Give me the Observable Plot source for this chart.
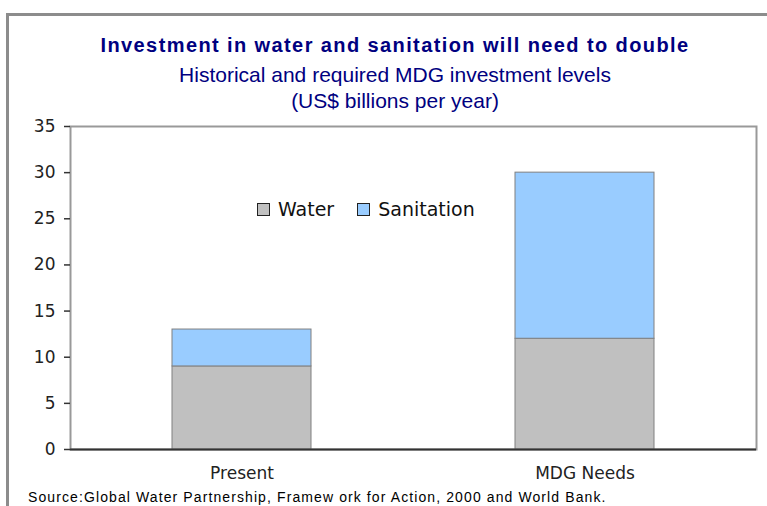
<!DOCTYPE html>
<html><head><meta charset="utf-8">
<script src="https://cdn.jsdelivr.net/npm/d3@7"></script>
<script src="https://cdn.jsdelivr.net/npm/@observablehq/plot@0.6"></script>
<style>
html,body{margin:0;overflow:hidden;}
body{width:767px;height:506px;background:#fff;position:relative;font-family:"Liberation Sans",Arial,sans-serif;}
#frame{position:absolute;left:6px;top:13px;width:800px;height:520px;border:3px solid #8c8c8c;border-right:none;border-bottom:none;box-sizing:border-box;}
.t{position:absolute;left:8px;width:774px;text-align:center;color:#000080;white-space:nowrap;}
#title{top:34px;font-size:20px;font-weight:bold;letter-spacing:1.4px;}
#sub1{top:63px;font-size:21px;}
#sub2{top:89px;font-size:21px;}
#chart{position:absolute;left:0;top:116px;}
#legend{position:absolute;left:257px;top:198px;font-family:"DejaVu Sans",sans-serif;font-size:19px;color:#111;display:flex;align-items:center;}
.sw{display:inline-block;width:11px;height:11px;border:1px solid #222;margin-right:8px;}
#caption{position:absolute;left:28px;top:489px;font-size:14px;letter-spacing:1.1px;color:#000;white-space:nowrap;}
</style></head>
<body>
<div id="frame"></div>
<div class="t" id="title">Investment in water and sanitation will need to double</div>
<div class="t" id="sub1">Historical and required MDG investment levels</div>
<div class="t" id="sub2">(US$ billions per year)</div>
<div id="chart"></div>
<div id="legend"></div>
<div id="caption">Source:Global Water Partnership, Framew ork for Action, 2000 and World Bank.</div>
<script>
const categories = ["Present", "MDG Needs"];
const series = ["Water", "Sanitation"];
const waterValues = [9, 12];
const sanitationValues = [4, 18];
const yTicks = [0, 5, 10, 15, 20, 25, 30, 35];
const colors = ["#c0c0c0", "#99ccff"];

const data = [];
categories.forEach((c, i) => {
  data.push({cat: c, series: "Water", value: waterValues[i]});
  data.push({cat: c, series: "Sanitation", value: sanitationValues[i]});
});

const chart = Plot.plot({
  width: 767,
  height: 390,
  marginLeft: 70,
  marginRight: 11,
  marginTop: 10,
  marginBottom: 57,
  style: {fontFamily: "DejaVu Sans, sans-serif", fontSize: "17px", color: "#222", background: "transparent"},
  x: {domain: categories, paddingInner: 0.595, paddingOuter: 0.2975, label: null},
  y: {domain: [0, 35], ticks: yTicks, label: null},
  color: {domain: series, range: colors},
  marks: [
    Plot.frame({stroke: "#999", strokeWidth: 2}),
    Plot.barY(data, Plot.stackY({x: "cat", y: "value", fill: "series", stroke: "#808080", strokeWidth: 1, order: series})),
    Plot.ruleY([0], {stroke: "#333", strokeWidth: 2}),
    Plot.axisY({ticks: yTicks, tickSize: 6, tickPadding: 9, stroke: "#333", label: null, line: true, strokeWidth: 1.5}),
    Plot.axisX({tickSize: 0, tickPadding: 17, label: null})
  ]
});
document.getElementById("chart").appendChild(chart);

const leg = document.getElementById("legend");
series.forEach((s, i) => {
  const sw = document.createElement("span");
  sw.className = "sw"; sw.style.background = colors[i];
  const tx = document.createElement("span");
  tx.textContent = s; tx.style.marginRight = i === 0 ? "23px" : "0";
  leg.appendChild(sw); leg.appendChild(tx);
});
</script>
</body></html>
